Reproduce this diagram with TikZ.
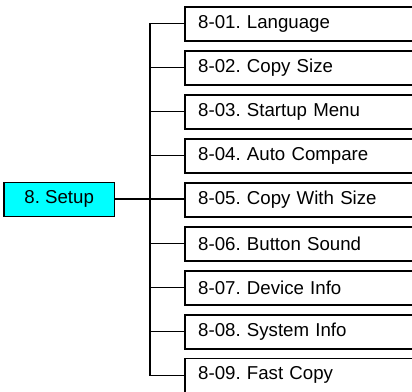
\documentclass[tikz,border=0pt]{standalone}
\usepackage{fontspec}
\setmainfont{Liberation Sans}
\definecolor{setupcyan}{RGB}{0,255,255}
\begin{document}
\begin{tikzpicture}[x=0.75pt,y=-0.75pt,
  itembox/.style={draw=black,line width=1pt,fill=white,anchor=north west,
    minimum height=25.5pt,text width=152.5pt,inner xsep=9.75pt,inner ysep=0pt,
    align=left,font=\fontsize{14}{16}\selectfont\frenchspacing},
  setupbox/.style={draw=black,line width=1.1pt,fill=setupcyan,minimum width=82.7pt,
    minimum height=25.5pt,inner sep=0pt,font=\fontsize{14}{16}\selectfont\frenchspacing},
  branch/.style={line width=0.8pt},
  mainlink/.style={line width=1.4pt}]
\useasboundingbox (0,0) rectangle (412,392);
\clip (0,0) rectangle (412,392);
\node[itembox] (b1) at (184.5,6.3) {8-01. Language};
\node[itembox] (b2) at (184.5,50.3) {8-02. Copy Size};
\node[itembox] (b3) at (184.5,94.3) {8-03. Startup Menu};
\node[itembox] (b4) at (184.5,138.3) {8-04. Auto Compare};
\node[itembox] (b5) at (184.5,182.3) {8-05. Copy With Size};
\node[itembox] (b6) at (184.5,226.3) {8-06. Button Sound};
\node[itembox] (b7) at (184.5,270.3) {8-07. Device Info};
\node[itembox] (b8) at (184.5,314.3) {8-08. System Info};
\node[itembox] (b9) at (184.5,357.6) {8-09. Fast Copy};
\node[setupbox] (setup) at (59.2,199.3) {8. Setup};
\coordinate (top) at (150,0 |- b1.west);
\coordinate (bot) at (150,0 |- b9.west);
\draw[branch] (b1.west) -- (top) -- (bot) -- (b9.west);
\foreach \i in {2,...,8} {\draw[branch] (b\i.west) -- (top |- b\i.west);}
\draw[mainlink] (setup.east) -- (setup.east -| b5.west);
\end{tikzpicture}
\end{document}
